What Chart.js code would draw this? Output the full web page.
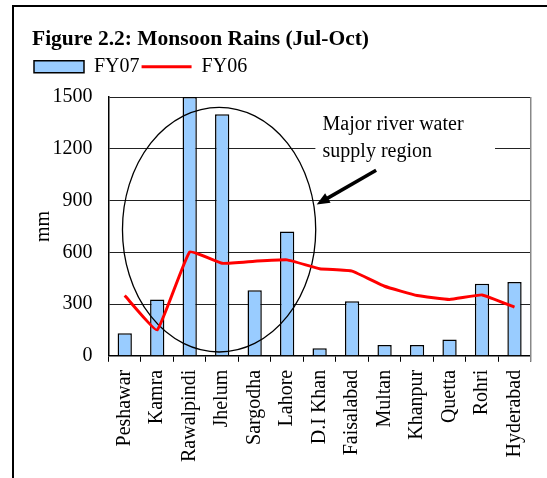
<!DOCTYPE html>
<html>
<head>
<meta charset="utf-8">
<script src="https://cdn.jsdelivr.net/npm/chart.js@4.4.1/dist/chart.umd.min.js"></script>
<style>
  body { margin: 0; background: #fff; }
</style>
</head>
<body>
<canvas id="graficoChuvas" width="547" height="478"></canvas>
<script>
// estacoes e chuvas de moncao (mm), Jul-Out
var estacoes = ['Peshawar', 'Kamra', 'Rawalpindi', 'Jhelum', 'Sargodha', 'Lahore', 'D.I Khan',
  'Faisalabad', 'Multan', 'Khanpur', 'Quetta', 'Rohri', 'Hyderabad'];
var chuvaFY07 = [130, 326, 1500, 1400, 380, 720, 43, 316, 62, 62, 95, 417, 427];
var chuvaFY06 = [349, 150, 602, 536, 548, 556, 505, 491, 403, 349, 326, 353, 282];
var ticksY = [0, 300, 600, 900, 1200, 1500];
var notaTexto = ['Major river water', 'supply region'];

var fonte = '"Liberation Serif", "Times New Roman", serif';

// moldura, elipse, texto e seta da anotacao
var anotacao = {
  id: 'anotacao',
  beforeDraw: function(chart) {
    var ctx = chart.ctx;
    ctx.save();
    ctx.fillStyle = '#fff';
    ctx.fillRect(0, 0, chart.width, chart.height);
    ctx.strokeStyle = '#000';
    ctx.lineWidth = 2;
    ctx.beginPath();
    ctx.moveTo(13, chart.height);
    ctx.lineTo(13, 6);
    ctx.lineTo(chart.width, 6);
    ctx.stroke();
    ctx.restore();
  },
  afterDatasetDraw: function(chart, args) {
    if (args.index !== 0) return;
    var x = chart.scales.x, y = chart.scales.y, ctx = chart.ctx;
    var esq = x.getPixelForValue(-0.07), dir = x.getPixelForValue(5.88);
    var topo = y.getPixelForValue(1440), base = y.getPixelForValue(22);
    ctx.save();
    ctx.beginPath();
    ctx.ellipse((esq + dir) / 2, (topo + base) / 2, (dir - esq) / 2, (base - topo) / 2, 0, 0, Math.PI * 2);
    ctx.lineWidth = 1.3;
    ctx.strokeStyle = '#000';
    ctx.stroke();
    ctx.restore();
  },
  afterDatasetsDraw: function(chart) {
    var x = chart.scales.x, y = chart.scales.y, ctx = chart.ctx;
    ctx.save();
    // fundo branco por baixo do texto
    var bx0 = x.getPixelForValue(5.87), bx1 = x.getPixelForValue(11.4);
    var by0 = y.getPixelForValue(1370), by1 = y.getPixelForValue(1110);
    ctx.fillStyle = '#fff';
    ctx.fillRect(bx0, by0, bx1 - bx0, by1 - by0);

    ctx.fillStyle = '#000';
    ctx.font = '20px ' + fonte;
    ctx.textBaseline = 'alphabetic';
    ctx.textAlign = 'left';
    var tx = x.getPixelForValue(6.09);
    ctx.fillText(notaTexto[0], tx, y.getPixelForValue(1310));
    ctx.fillText(notaTexto[1], tx, y.getPixelForValue(1152));

    // seta
    var sx = x.getPixelForValue(7.74), sy = y.getPixelForValue(1076);
    var px = x.getPixelForValue(5.91), py = y.getPixelForValue(877);
    var ang = Math.atan2(py - sy, px - sx);
    var ponta = 14;
    ctx.strokeStyle = '#000';
    ctx.lineWidth = 3.5;
    ctx.beginPath();
    ctx.moveTo(sx, sy);
    ctx.lineTo(px - Math.cos(ang) * ponta * 0.8, py - Math.sin(ang) * ponta * 0.8);
    ctx.stroke();
    ctx.beginPath();
    ctx.moveTo(px, py);
    ctx.lineTo(px - ponta * Math.cos(ang - 0.4), py - ponta * Math.sin(ang - 0.4));
    ctx.lineTo(px - ponta * Math.cos(ang + 0.4), py - ponta * Math.sin(ang + 0.4));
    ctx.closePath();
    ctx.fill();

    // borda direita da area do grafico
    var area = chart.chartArea;
    ctx.strokeStyle = '#888';
    ctx.lineWidth = 1.5;
    ctx.beginPath();
    ctx.moveTo(area.right, area.top);
    ctx.lineTo(area.right, area.bottom + 6);
    ctx.stroke();
    ctx.restore();
  }
};

var grafico = new Chart(document.getElementById('graficoChuvas').getContext('2d'), {
  type: 'bar',
  data: {
    labels: estacoes,
    datasets: [
      {
        label: 'FY07',
        data: chuvaFY07,
        backgroundColor: '#99ccff',
        borderColor: '#000',
        borderWidth: 1.5,
        categoryPercentage: 1,
        barPercentage: 0.44,
        pointStyle: 'rect',
        order: 1
      },
      {
        type: 'line',
        label: 'FY06',
        data: chuvaFY06,
        borderColor: '#ff0000',
        backgroundColor: '#ff0000',
        borderWidth: 3,
        pointRadius: 0,
        tension: 0.1,
        pointStyle: 'line',
        order: 0
      }
    ]
  },
  options: {
    responsive: false,
    animation: false,
    devicePixelRatio: 1,
    layout: { padding: { left: 32, right: 13, top: 0, bottom: 8 } },
    plugins: {
      tooltip: { enabled: false },
      title: {
        display: true,
        text: 'Figure 2.2: Monsoon Rains (Jul-Oct)',
        align: 'start',
        color: '#000',
        font: { family: fonte, size: 21.5, weight: 'bold' },
        padding: { top: 27, bottom: 2 }
      },
      // espaco entre a legenda e a area do grafico
      subtitle: {
        display: true,
        text: '',
        weight: 500,
        font: { size: 1 },
        padding: { top: 9, bottom: 0 }
      },
      legend: {
        display: true,
        align: 'start',
        labels: {
          usePointStyle: true,
          pointStyleWidth: 50,
          boxHeight: 12,
          padding: 2,
          color: '#000',
          font: { family: fonte, size: 20 },
          sort: function(a, b) { return a.datasetIndex - b.datasetIndex; }
        }
      }
    },
    scales: {
      x: {
        grid: {
          offset: true,
          drawOnChartArea: false,
          drawTicks: true,
          tickLength: 6,
          color: '#000'
        },
        border: { color: '#000', width: 1.5 },
        ticks: {
          color: '#000',
          minRotation: 90,
          maxRotation: 90,
          autoSkip: false,
          padding: 8,
          font: { family: fonte, size: 20 }
        }
      },
      y: {
        min: 0,
        max: 1500,
        afterBuildTicks: function(escala) {
          escala.ticks = ticksY.map(function(v) { return { value: v }; });
        },
        afterFit: function(escala) {
          escala.width = 76.5;
        },
        grid: { color: '#222', lineWidth: 1, drawTicks: false },
        border: { color: '#000', width: 1.5 },
        title: {
          display: true,
          text: 'mm',
          color: '#000',
          font: { family: fonte, size: 20 },
          padding: { top: 0, bottom: 0 }
        },
        ticks: {
          color: '#000',
          padding: 16,
          font: { family: fonte, size: 20 },
          callback: function(v) { return String(v); }
        }
      }
    }
  },
  plugins: [anotacao]
});
</script>
</body>
</html>
